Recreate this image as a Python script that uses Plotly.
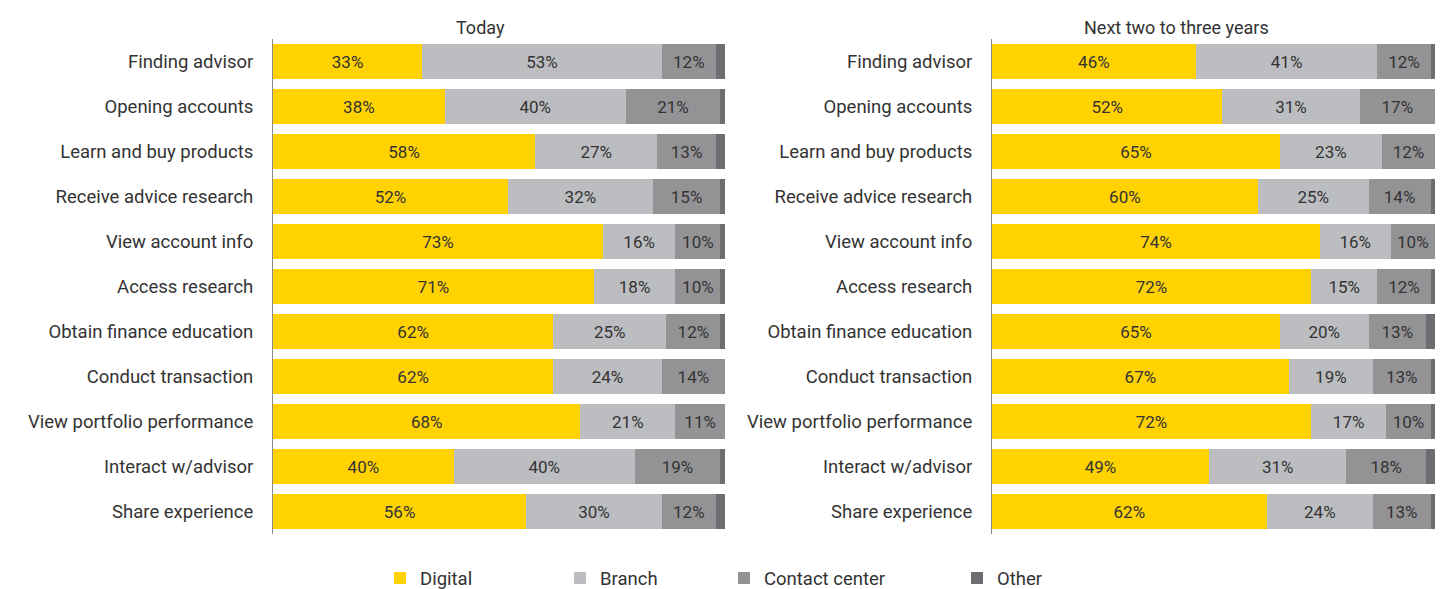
import plotly.graph_objects as go
from plotly.subplots import make_subplots

categories = ["Finding advisor", "Opening accounts", "Learn and buy products",
              "Receive advice research", "View account info", "Access research",
              "Obtain finance education", "Conduct transaction",
              "View portfolio performance", "Interact w/advisor", "Share experience"]

# Today
today_digital = [33, 38, 58, 52, 73, 71, 62, 62, 68, 40, 56]
today_branch = [53, 40, 27, 32, 16, 18, 25, 24, 21, 40, 30]
today_contact = [12, 21, 13, 15, 10, 10, 12, 14, 11, 19, 12]
today_other = [2, 1, 2, 1, 1, 1, 1, 0, 0, 1, 2]

# Next two to three years
next_digital = [46, 52, 65, 60, 74, 72, 65, 67, 72, 49, 62]
next_branch = [41, 31, 23, 25, 16, 15, 20, 19, 17, 31, 24]
next_contact = [12, 17, 12, 14, 10, 12, 13, 13, 10, 18, 13]
next_other = [1, 0, 0, 1, 0, 1, 2, 1, 1, 2, 1]

series_names = ["Digital", "Branch", "Contact center", "Other"]
colors = ["#FFD200", "#BCBDC0", "#939396", "#6D6E71"]

FONT = "Roboto"
OFF = 8  # page body margin
W, H = 1443 - 2 * OFF, 589 - OFF


def px(v):
    # page pixel -> figure pixel
    return v - OFF


fig = make_subplots(rows=1, cols=2, horizontal_spacing=0.0)

panels = [
    (1, [today_digital, today_branch, today_contact, today_other]),
    (2, [next_digital, next_branch, next_contact, next_other]),
]
legends = ["legend", "legend2", "legend3", "legend4"]

for col, values in panels:
    for i, (name, vals) in enumerate(zip(series_names, values)):
        is_other = name == "Other"
        fig.add_trace(go.Bar(
            x=vals, y=categories, orientation="h", name=name,
            marker=dict(color=colors[i], line=dict(width=0)),
            text=None if is_other else [f"{v}%" for v in vals],
            textposition="inside", insidetextanchor="middle",
            textangle=0, constraintext="none",
            textfont=dict(family=FONT, size=17, color="#333333"),
            hoverinfo="skip",
            showlegend=(col == 1), legend=legends[i],
        ), row=1, col=col)

top, bottom = px(38.5), px(534.5)
fig.update_layout(
    barmode="stack", bargap=0.22,
    width=W, height=H,
    margin=dict(l=0, r=0, t=top, b=H - bottom, autoexpand=False),
    paper_bgcolor="white", plot_bgcolor="white",
    font=dict(family=FONT, size=18.5, color="#333333"),
)

fig.update_xaxes(range=[0, 100], showgrid=False, showticklabels=False,
                 zeroline=False, showline=False, fixedrange=True)
fig.update_yaxes(categoryorder="array", categoryarray=categories,
                 autorange="reversed", showgrid=False, ticks="",
                 showline=True, linecolor="#8a8a8a", linewidth=1,
                 ticklabelstandoff=15,
                 tickfont=dict(family=FONT, size=18.5, color="#333333"))

fig.update_xaxes(domain=[px(273) / W, px(725) / W], row=1, col=1)
fig.update_xaxes(domain=[px(992) / W, 1.0], row=1, col=2)

# panel titles
for label, cx in [("Today", 480), ("Next two to three years", 1176)]:
    fig.add_annotation(text=label, xref="paper", yref="paper",
                       x=px(cx) / W, xanchor="center", y=1, yanchor="middle",
                       yshift=top - px(27), showarrow=False,
                       font=dict(family=FONT, size=18, color="#333333"))

# one legend per series, spread along the bottom
plot_h = bottom - top
leg_y = (bottom - px(579)) / plot_h
leg_x = [380, 560, 724, 957]
for name, lx in zip(legends, leg_x):
    fig.update_layout({name: dict(x=px(lx) / W, y=leg_y, xanchor="left", yanchor="middle",
                                  orientation="h", bgcolor="rgba(0,0,0,0)",
                                  font=dict(family=FONT, size=18.5, color="#333333"))})

fig.write_html("out.html")
